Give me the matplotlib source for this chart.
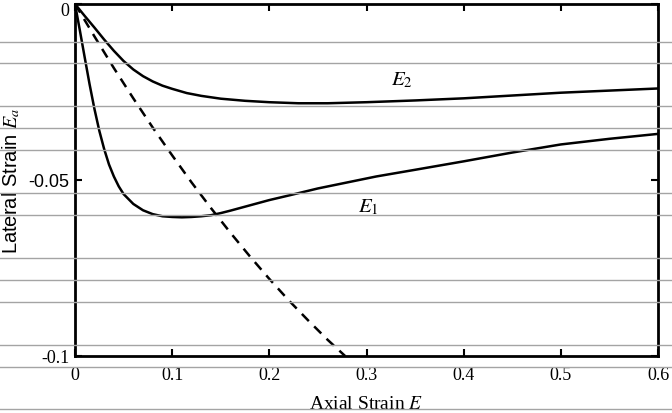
import matplotlib
matplotlib.use("Agg")
import matplotlib.pyplot as plt
from matplotlib.lines import Line2D
from matplotlib.transforms import ScaledTranslation

# -----------------------------
# Data
# -----------------------------
e1_x = [0, 0.005, 0.01, 0.015, 0.02, 0.025, 0.03, 0.035, 0.04, 0.045, 0.05, 0.06,
        0.07, 0.08, 0.09, 0.10, 0.11, 0.12, 0.13, 0.14, 0.15, 0.16, 0.18, 0.20,
        0.22, 0.25, 0.28, 0.31, 0.35, 0.40, 0.45, 0.50, 0.55, 0.60]
e1_y = [0, -0.0075, -0.0152, -0.0228, -0.0298, -0.0360, -0.0412, -0.0456, -0.0490,
        -0.0518, -0.0540, -0.0568, -0.0586, -0.0597, -0.0603, -0.0605, -0.0606,
        -0.0605, -0.0603, -0.0600, -0.0594, -0.0587, -0.0572, -0.0557, -0.0544,
        -0.0524, -0.0507, -0.0490, -0.0471, -0.0447, -0.0422, -0.0399, -0.0383,
        -0.0369]

e2_x = [0, 0.01, 0.02, 0.03, 0.04, 0.05, 0.06, 0.07, 0.08, 0.09, 0.10, 0.115,
        0.13, 0.15, 0.175, 0.20, 0.23, 0.26, 0.30, 0.35, 0.40, 0.45, 0.50, 0.55,
        0.60]
e2_y = [0, -0.0034, -0.0067, -0.0101, -0.0133, -0.0162, -0.0186, -0.0205, -0.0220,
        -0.0232, -0.0241, -0.0253, -0.0261, -0.0269, -0.0275, -0.0279, -0.0282,
        -0.0282, -0.0279, -0.0274, -0.0268, -0.0260, -0.0252, -0.0246, -0.0240]

dash_x = [0, 0.02, 0.04, 0.06, 0.08, 0.10, 0.12, 0.14, 0.16, 0.18, 0.20, 0.22,
          0.24, 0.26, 0.278]
dash_y = [0, -0.0092, -0.0182, -0.0268, -0.0351, -0.0430, -0.0507, -0.0580,
          -0.0650, -0.0717, -0.0781, -0.0842, -0.0899, -0.0954, -0.1000]

x_ticks = [0, 0.1, 0.2, 0.3, 0.4, 0.5, 0.6]
x_labels = ["0", "0.1", "0.2", "0.3", "0.4", "0.5", "0.6"]
y_ticks = [0, -0.05, -0.1]
y_labels = ["0", "-0.05", "-0.1"]

# faint ruled lines of the scanned page (pixels from top)
rule_rows = [42.7, 64.3, 107.3, 129.3, 151, 194.3, 216.3, 259.3, 281, 303.3,
             346.3, 368, 409.7]

# -----------------------------
# Plot
# -----------------------------
serif = ["Liberation Serif", "DejaVu Serif"]
sans = ["Liberation Sans", "DejaVu Sans"]
plt.rcParams["font.family"] = serif
plt.rcParams["mathtext.fontset"] = "stix"
plt.rcParams["axes.unicode_minus"] = False

W, H = 672, 414
fig = plt.figure(figsize=(W / 100, H / 100), dpi=100)
ax = fig.add_axes([75 / W, 1 - 357 / H, (658 - 75) / W, (357 - 5) / H])

ax.plot(e1_x, e1_y, color="black", lw=1.8, solid_joinstyle="round")
ax.plot(e2_x, e2_y, color="black", lw=1.8, solid_joinstyle="round")
ax.plot(dash_x, dash_y, color="black", lw=1.8, ls=(0, (4, 3)))

ax.set_xlim(0, 0.6)
ax.set_ylim(-0.1, 0)
ax.set_xticks(x_ticks)
ax.set_xticklabels(x_labels)
ax.set_yticks(y_ticks)
ax.set_yticklabels(y_labels)
ax.tick_params(direction="in", length=5, width=1.5, labelsize=13,
               top=True, right=True)
ax.tick_params(axis="x", pad=7)
ax.tick_params(axis="y", pad=4)

ylab = ax.get_yticklabels()
# the middle y label is set in a sans face in the original
ylab[1].set_fontfamily(sans)
# nudge the top "0" down so it stays on the page
ylab[0].set_transform(ylab[0].get_transform() +
                      ScaledTranslation(0, -3 / 72, fig.dpi_scale_trans))
for s in ax.spines.values():
    s.set_linewidth(2)

ax.text(0.336, -0.0213, r"$E_2$", fontsize=15, ha="center", va="center")
ax.text(0.302, -0.0575, r"$E_1$", fontsize=15, ha="center", va="center")

ax.set_xlabel(r"Axial Strain $E$", fontsize=14, labelpad=9)
ax.set_ylabel(r"Lateral Strain $E_a$", fontsize=14.5, fontfamily=sans)
ax.yaxis.set_label_coords(-53 / (658 - 75), 0.5)

for r in rule_rows:
    fig.add_artist(Line2D([0, 1], [1 - r / H, 1 - r / H], transform=fig.transFigure,
                          color="#a4a4a4", lw=1.0, zorder=5))

fig.savefig("out.png", dpi=100)
